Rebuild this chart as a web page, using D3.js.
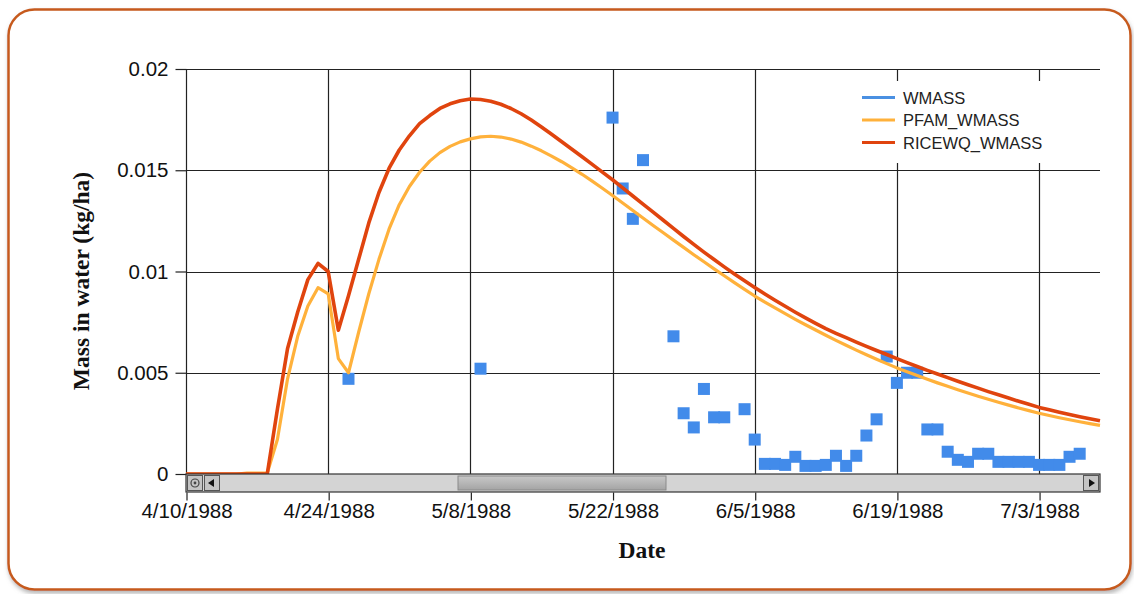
<!DOCTYPE html>
<html>
<head>
<meta charset="utf-8">
<script src="https://cdn.jsdelivr.net/npm/d3@7"></script>
<style>
  body { margin: 0; background: #fff; }
  svg { display: block; }
</style>
</head>
<body>
<div id="plot"></div>
<script>
// Model series: one value per day starting at 4/10/1988
const modelStart = "4/10/1988";
const ricewqValues = [
  0, 0, 0, 0, 0, 0, 0, 0, 0, 0.0032,
  0.0062, 0.0080, 0.0096, 0.0104, 0.0100, 0.0071, 0.0088, 0.0106, 0.0124, 0.0139,
  0.0151, 0.0160, 0.0167, 0.0173, 0.0177, 0.01805, 0.01828, 0.01843, 0.01852, 0.01849,
  0.01841, 0.01826, 0.01805, 0.01779, 0.01748, 0.01714, 0.01678, 0.01641, 0.01604, 0.01567,
  0.01529, 0.01491, 0.01453, 0.01413, 0.01373, 0.01333, 0.01293, 0.01253, 0.01213, 0.01173,
  0.01134, 0.01096, 0.01059, 0.01023, 0.00988, 0.00954, 0.00921, 0.00889, 0.00858, 0.00828,
  0.00799, 0.00771, 0.00744, 0.00718, 0.00695, 0.00673, 0.00651, 0.00630, 0.00610, 0.00590,
  0.00570, 0.00550, 0.00531, 0.00512, 0.00494, 0.00476, 0.00458, 0.00441, 0.00424, 0.00407,
  0.00391, 0.00375, 0.00359, 0.00344, 0.00329, 0.00317, 0.00305, 0.00294, 0.00283, 0.00273,
  0.00263
];
const pfamValues = [
  0, 0, 0, 0, 0, 0, 0.00005, 0.00005, 0.00005, 0.0017,
  0.0047, 0.0068, 0.0083, 0.0092, 0.0089, 0.0057, 0.0050, 0.0070, 0.0089, 0.0106,
  0.0121, 0.0133, 0.0142, 0.0149, 0.01545, 0.01587, 0.01618, 0.01640, 0.01655, 0.01665,
  0.01668, 0.01664, 0.01654, 0.01639, 0.01619, 0.01596, 0.01570, 0.01542, 0.01512, 0.01480,
  0.01446, 0.01411, 0.01375, 0.01338, 0.01301, 0.01264, 0.01227, 0.01191, 0.01155, 0.01119,
  0.01083, 0.01048, 0.01013, 0.00979, 0.00945, 0.00912, 0.00879, 0.00849, 0.00820, 0.00792,
  0.00764, 0.00737, 0.00711, 0.00685, 0.00660, 0.00636, 0.00612, 0.00589, 0.00567, 0.00545,
  0.00524, 0.00505, 0.00486, 0.00468, 0.00450, 0.00433, 0.00416, 0.00400, 0.00384, 0.00369,
  0.00354, 0.00340, 0.00326, 0.00313, 0.00300, 0.00289, 0.00278, 0.00268, 0.00258, 0.00249,
  0.00240
];

// Observed WMASS
const obsDates = [
  "4/26/1988", "5/9/1988", "5/22/1988", "5/23/1988", "5/24/1988", "5/25/1988",
  "5/28/1988", "5/29/1988", "5/30/1988", "5/31/1988", "6/1/1988", "6/2/1988",
  "6/4/1988", "6/5/1988", "6/6/1988", "6/7/1988", "6/8/1988", "6/9/1988",
  "6/10/1988", "6/11/1988", "6/12/1988", "6/13/1988", "6/14/1988", "6/15/1988",
  "6/16/1988", "6/17/1988", "6/18/1988", "6/19/1988", "6/20/1988", "6/21/1988",
  "6/22/1988", "6/23/1988", "6/24/1988", "6/25/1988", "6/26/1988", "6/27/1988",
  "6/28/1988", "6/29/1988", "6/30/1988", "7/1/1988", "7/2/1988", "7/3/1988",
  "7/4/1988", "7/5/1988", "7/6/1988", "7/7/1988"
];
const obsValues = [
  0.0047, 0.0052, 0.0176, 0.0141, 0.0126, 0.0155,
  0.0068, 0.0030, 0.0023, 0.0042, 0.0028, 0.0028,
  0.0032, 0.0017, 0.0005, 0.0005, 0.00045, 0.00085,
  0.0004, 0.0004, 0.00045, 0.0009, 0.0004, 0.0009,
  0.0019, 0.0027, 0.0058, 0.0045, 0.0050, 0.0050,
  0.0022, 0.0022, 0.0011, 0.0007, 0.0006, 0.0010,
  0.0010, 0.0006, 0.0006, 0.0006, 0.0006, 0.00045,
  0.00045, 0.00045, 0.00085, 0.0010
];

const xTickLabels = ["4/10/1988", "4/24/1988", "5/8/1988", "5/22/1988", "6/5/1988", "6/19/1988", "7/3/1988"];
const yTickValues = [0, 0.005, 0.01, 0.015, 0.02];
const legendLabels = ["WMASS", "PFAM_WMASS", "RICEWQ_WMASS"];
const legendColors = ["#4a90e2", "#ffb13b", "#e0440e"];

const width = 1134, height = 594;
const plotLeft = 186, plotRight = 1100, plotTop = 69, plotBottom = 474;
const parse = d3.timeParse("%m/%d/%Y");

const start = parse(modelStart);
const ricewq = ricewqValues.map((v, i) => ({ date: d3.timeDay.offset(start, i), value: v }));
const pfam = pfamValues.map((v, i) => ({ date: d3.timeDay.offset(start, i), value: v }));
const obs = obsDates.map((d, i) => ({ date: parse(d), value: obsValues[i] }));

const svg = d3.select("#plot").append("svg")
  .attr("width", width)
  .attr("height", height);

// card frame with shadow
const defs = svg.append("defs");
const shadow = defs.append("filter").attr("id", "shadow")
  .attr("x", "-5%").attr("y", "-5%").attr("width", "110%").attr("height", "115%");
shadow.append("feDropShadow")
  .attr("dx", 1).attr("dy", 3).attr("stdDeviation", 2)
  .attr("flood-color", "#888").attr("flood-opacity", 0.6);

const thumbGrad = defs.append("linearGradient").attr("id", "thumb")
  .attr("x1", 0).attr("y1", 0).attr("x2", 0).attr("y2", 1);
thumbGrad.append("stop").attr("offset", "0%").attr("stop-color", "#c8c8c8");
thumbGrad.append("stop").attr("offset", "100%").attr("stop-color", "#a4a4a4");

svg.append("rect")
  .attr("x", 8.5).attr("y", 9.5)
  .attr("width", 1122).attr("height", 580)
  .attr("rx", 26)
  .attr("fill", "#fff")
  .attr("stroke", "#c65a1e")
  .attr("stroke-width", 2.5)
  .attr("filter", "url(#shadow)");

// scales
const x = d3.scaleTime()
  .domain([parse("4/10/1988"), parse("7/9/1988")])
  .range([plotLeft, plotRight]);
const y = d3.scaleLinear()
  .domain([0, 0.02])
  .range([plotBottom, plotTop]);

const xTicks = xTickLabels.map(parse);

// grid
const grid = svg.append("g").attr("stroke", "#222").attr("stroke-width", 1.2);
grid.selectAll("line.h")
  .data(yTickValues)
  .enter().append("line")
  .attr("class", "h")
  .attr("x1", plotLeft).attr("x2", plotRight)
  .attr("y1", d => Math.round(y(d)) + 0.5)
  .attr("y2", d => Math.round(y(d)) + 0.5);
grid.selectAll("line.v")
  .data(xTicks)
  .enter().append("line")
  .attr("class", "v")
  .attr("x1", d => Math.round(x(d)) + 0.5)
  .attr("x2", d => Math.round(x(d)) + 0.5)
  .attr("y1", plotTop).attr("y2", plotBottom);

// y axis
const yAxis = d3.axisLeft(y)
  .tickValues(yTickValues)
  .tickFormat(d => d === 0 ? "0" : String(+d.toFixed(3)))
  .tickSize(11)
  .tickPadding(7);
const gy = svg.append("g")
  .attr("transform", `translate(${plotLeft + 0.5},0)`)
  .call(yAxis);
gy.select(".domain").remove();
gy.selectAll(".tick line").attr("stroke", "#222").attr("stroke-width", 1.2);
gy.selectAll(".tick text")
  .attr("fill", "#111")
  .style("font-family", "Arial, 'Liberation Sans', sans-serif")
  .style("font-size", "20.5px");

// data marks
const plot = svg.append("g");
plot.selectAll("rect.obs")
  .data(obs)
  .enter().append("rect")
  .attr("class", "obs")
  .attr("x", d => x(d.date) - 6)
  .attr("y", d => y(d.value) - 6)
  .attr("width", 12).attr("height", 12)
  .attr("fill", "#428bea");

const line = d3.line()
  .x(d => x(d.date))
  .y(d => y(d.value));

plot.append("path")
  .datum(pfam)
  .attr("d", line)
  .attr("fill", "none")
  .attr("stroke", "#ffb13b")
  .attr("stroke-width", 3.2)
  .attr("stroke-linejoin", "round");

plot.append("path")
  .datum(ricewq)
  .attr("d", line)
  .attr("fill", "none")
  .attr("stroke", "#e0440e")
  .attr("stroke-width", 3.6)
  .attr("stroke-linejoin", "round");

// legend
const legend = svg.append("g");
legend.append("rect")
  .attr("x", 845).attr("y", 81)
  .attr("width", 230).attr("height", 82)
  .attr("fill", "#fff");
legendLabels.forEach((label, i) => {
  const ly = 97.5 + i * 22.5;
  legend.append("line")
    .attr("x1", 862).attr("x2", 895)
    .attr("y1", ly).attr("y2", ly)
    .attr("stroke", legendColors[i])
    .attr("stroke-width", 3.2);
  legend.append("text")
    .attr("x", 903).attr("y", ly + 6)
    .attr("fill", "#222")
    .style("font-family", "Arial, 'Liberation Sans', sans-serif")
    .style("font-size", "16.5px")
    .text(label);
});

// scrollbar under the plot
const sb = svg.append("g");
const sbTop = plotBottom, sbH = 18;
sb.append("rect")
  .attr("x", plotLeft).attr("y", sbTop)
  .attr("width", plotRight - plotLeft).attr("height", sbH)
  .attr("fill", "#d4d4d4")
  .attr("stroke", "#333").attr("stroke-width", 1.2);
sb.append("rect")
  .attr("x", 458).attr("y", sbTop + 2)
  .attr("width", 208).attr("height", sbH - 4)
  .attr("fill", "url(#thumb)")
  .attr("stroke", "#8a8a8a");
// buttons
[[plotLeft + 1.5, 15], [plotLeft + 18.5, 15], [plotRight - 16.5, 15]].forEach(([bx, bw]) => {
  sb.append("rect")
    .attr("x", bx).attr("y", sbTop + 1.5)
    .attr("width", bw).attr("height", sbH - 3)
    .attr("fill", "#c4c4c4")
    .attr("stroke", "#555").attr("stroke-width", 1);
});
sb.append("circle")
  .attr("cx", plotLeft + 9).attr("cy", sbTop + 9)
  .attr("r", 4).attr("fill", "none")
  .attr("stroke", "#444").attr("stroke-width", 1.2);
sb.append("circle")
  .attr("cx", plotLeft + 9).attr("cy", sbTop + 9)
  .attr("r", 1.4).attr("fill", "#444");
sb.append("path")
  .attr("d", `M${plotLeft + 22},${sbTop + 9} L${plotLeft + 28},${sbTop + 5} L${plotLeft + 28},${sbTop + 13} Z`)
  .attr("fill", "#111");
sb.append("path")
  .attr("d", `M${plotRight - 5},${sbTop + 9} L${plotRight - 11},${sbTop + 5} L${plotRight - 11},${sbTop + 13} Z`)
  .attr("fill", "#111");

// x axis below the scrollbar
const xAxis = d3.axisBottom(x)
  .tickValues(xTicks)
  .tickFormat(d3.timeFormat("%-m/%-d/%Y"))
  .tickSize(8)
  .tickPadding(3);
const gx = svg.append("g")
  .attr("transform", `translate(0.5,${sbTop + sbH + 0.5})`)
  .call(xAxis);
gx.select(".domain").remove();
gx.selectAll(".tick line").attr("stroke", "#222").attr("stroke-width", 1.2);
gx.selectAll(".tick text")
  .attr("fill", "#111")
  .style("font-family", "Arial, 'Liberation Sans', sans-serif")
  .style("font-size", "20.5px");

// axis titles
svg.append("text")
  .attr("transform", "translate(89,281) rotate(-90)")
  .attr("text-anchor", "middle")
  .attr("fill", "#111")
  .style("font-family", "'Times New Roman', 'Liberation Serif', serif")
  .style("font-weight", "bold")
  .style("font-size", "23.5px")
  .text("Mass in water (kg/ha)");

svg.append("text")
  .attr("x", 642).attr("y", 558)
  .attr("text-anchor", "middle")
  .attr("fill", "#111")
  .style("font-family", "'Times New Roman', 'Liberation Serif', serif")
  .style("font-weight", "bold")
  .style("font-size", "23.5px")
  .text("Date");
</script>
</body>
</html>
